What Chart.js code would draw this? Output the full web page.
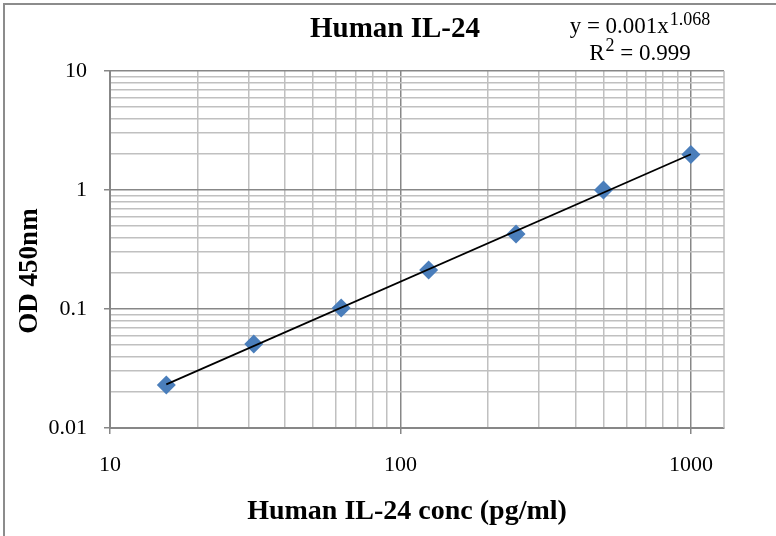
<!DOCTYPE html>
<html><head><meta charset="utf-8">
<script src="https://cdn.jsdelivr.net/npm/chart.js@4.4.0/dist/chart.umd.min.js"></script>
<style>html,body{margin:0;padding:0;background:#fff;overflow:hidden}canvas{display:block}</style>
</head><body>
<canvas id="c" width="776" height="536"></canvas>
<script>
// ---- data ----
const concentrations = [15.625, 31.25, 62.5, 125, 250, 500, 1000];
const odValues = [0.023, 0.0508, 0.102, 0.213, 0.427, 1.00, 1.99];
const xTickLabels = ['10', '100', '1000'];
const yTickLabels = ['0.01', '0.1', '1', '10'];
const minorSteps = [1, 2, 3, 4, 5, 6, 7, 8, 9];
const chartTitle = 'Human IL-24';
const xTitle = 'Human IL-24 conc (pg/ml)';
const yTitle = 'OD 450nm';
const eqCoef = '0.001';
const eqExp = '1.068';
const r2Value = '0.999';

// ---- derived ----
const xMajors = xTickLabels.map(Number);
const yMajors = yTickLabels.map(Number);
function gridValues(majors) {
  const out = [];
  majors.forEach(m => minorSteps.forEach(s => out.push(+(m * s).toPrecision(6))));
  return out;
}
const xGrid = gridValues(xMajors).filter(v => v <= 1300);
const yGrid = gridValues(yMajors).filter(v => v <= 10);
const isMajor = (v, majors) => majors.some(m => Math.abs(m - v) < m * 1e-6);

const points = concentrations.map((x, i) => ({x, y: odValues[i]}));
// power-law fit (least squares in log space)
const lx = concentrations.map(Math.log), ly = odValues.map(Math.log);
const mx = lx.reduce((a, b) => a + b) / lx.length, my = ly.reduce((a, b) => a + b) / ly.length;
let sxy = 0, sxx = 0;
lx.forEach((v, i) => { sxy += (v - mx) * (ly[i] - my); sxx += (v - mx) * (v - mx); });
const slope = sxy / sxx, coef = Math.exp(my - slope * mx);
const trendX = [Math.min(...concentrations), Math.max(...concentrations)];
const trend = trendX.map(x => ({x, y: coef * Math.pow(x, slope)}));

const FONT = '"Liberation Serif", "Times New Roman", serif';
const MAJOR_COL = '#878787', MINOR_COL = '#c0c0c0';

const decor = {
  id: 'decor',
  beforeDraw(chart) {
    const c = chart.ctx;
    c.save();
    c.fillStyle = '#fff';
    c.fillRect(0, 0, chart.width, chart.height);
    c.strokeStyle = '#8c8c8c';
    c.lineWidth = 2;
    c.beginPath();
    c.moveTo(4, chart.height); c.lineTo(4, 4); c.lineTo(chart.width, 4);
    c.stroke();
    c.restore();
  },
  beforeDatasetsDraw(chart) {
    const a = chart.chartArea, c = chart.ctx;
    c.save();
    c.strokeStyle = '#bdbdbd';
    c.lineWidth = 1.5;
    c.beginPath();
    c.moveTo(a.right, a.top); c.lineTo(a.right, a.bottom);
    c.stroke();
    c.restore();
  },
  afterDraw(chart) {
    const c = chart.ctx;
    c.save();
    c.fillStyle = '#000';
    c.textBaseline = 'alphabetic';
    // title
    c.font = 'bold 29px ' + FONT;
    c.textAlign = 'center';
    c.fillText(chartTitle, 395, 37);
    // x title
    c.font = 'bold 28px ' + FONT;
    c.fillText(xTitle, 407, 519);
    // y title
    c.save();
    c.translate(37, 271);
    c.rotate(-Math.PI / 2);
    c.font = 'bold 27px ' + FONT;
    c.fillText(yTitle, 0, 0);
    c.restore();
    // equation
    c.textAlign = 'left';
    const mainF = '23px ' + FONT, supF = '18px ' + FONT;
    const cx = 640;
    c.font = mainF;
    const t1 = 'y = ' + eqCoef + 'x';
    const w1 = c.measureText(t1).width;
    c.font = supF;
    const w1s = c.measureText(eqExp).width;
    let x0 = cx - (w1 + w1s + 1) / 2;
    c.font = mainF; c.fillText(t1, x0, 33);
    c.font = supF; c.fillText(eqExp, x0 + w1 + 1, 25);
    c.font = mainF;
    const wR = c.measureText('R').width;
    const t2 = ' = ' + r2Value;
    const w2 = c.measureText(t2).width;
    c.font = supF;
    const w2s = c.measureText('2').width;
    x0 = cx - (wR + w2s + w2 + 1) / 2;
    c.font = mainF; c.fillText('R', x0, 60);
    c.font = supF; c.fillText('2', x0 + wR + 1, 51);
    c.font = mainF; c.fillText(t2, x0 + wR + 1 + w2s, 60);
    c.restore();
  }
};

new Chart(document.getElementById('c'), {
  type: 'scatter',
  data: {
    datasets: [
      {label: 'Trend', type: 'line', data: trend, borderColor: '#000', borderWidth: 1.8,
       pointRadius: 0, fill: false, tension: 0, order: 0},
      {label: 'OD 450nm', data: points, pointStyle: 'rectRot', pointRadius: 9.5,
       pointHoverRadius: 9.5, backgroundColor: '#4a7ebb', borderColor: '#4a7ebb',
       borderWidth: 0, order: 1}
    ]
  },
  options: {
    responsive: false,
    animation: false,
    devicePixelRatio: 1,
    layout: {padding: {left: 0, top: 71, right: 52, bottom: 0}},
    plugins: {legend: {display: false}, tooltip: {enabled: false}, title: {display: false}},
    scales: {
      x: {
        type: 'logarithmic', position: 'bottom', min: 10, max: 1300,
        afterBuildTicks(s) { s.ticks = xGrid.map(v => ({value: v})); },
        afterFit(s) { s.height = 108; },
        ticks: {
          autoSkip: false, maxRotation: 0, minRotation: 0, padding: 18, color: '#000',
          font: {family: FONT, size: 22},
          callback: v => isMajor(v, xMajors) ? xTickLabels[xMajors.findIndex(m => Math.abs(m - v) < m * 1e-6)] : ''
        },
        grid: {
          color: ctx => isMajor(ctx.tick.value, xMajors) ? MAJOR_COL : MINOR_COL,
          lineWidth: 1.5, tickLength: 6,
          tickColor: ctx => isMajor(ctx.tick.value, xMajors) ? MAJOR_COL : 'rgba(0,0,0,0)',
          tickWidth: 1.5
        },
        border: {color: MAJOR_COL, width: 2}
      },
      y: {
        type: 'logarithmic', position: 'left', min: 0.01, max: 10,
        afterBuildTicks(s) { s.ticks = yGrid.map(v => ({value: v})); },
        afterFit(s) { s.width = 110; },
        ticks: {
          autoSkip: false, padding: 17, color: '#000',
          font: {family: FONT, size: 22},
          callback: v => isMajor(v, yMajors) ? yTickLabels[yMajors.findIndex(m => Math.abs(m - v) < m * 1e-6)] : ''
        },
        grid: {
          color: ctx => isMajor(ctx.tick.value, yMajors) ? MAJOR_COL : MINOR_COL,
          lineWidth: 1.5, tickLength: 6,
          tickColor: ctx => isMajor(ctx.tick.value, yMajors) ? MAJOR_COL : 'rgba(0,0,0,0)',
          tickWidth: 1.5
        },
        border: {color: MAJOR_COL, width: 2}
      }
    }
  },
  plugins: [decor]
});
</script>
</body></html>
